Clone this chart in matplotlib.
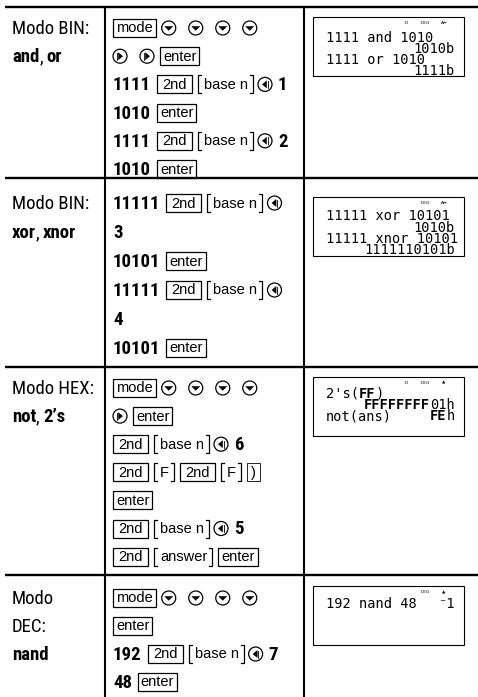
import matplotlib
matplotlib.use("Agg")
import matplotlib.pyplot as plt
from matplotlib import font_manager
from matplotlib.patches import Rectangle, Circle, Polygon
from matplotlib.lines import Line2D


def has_font(name):
    try:
        font_manager.findfont(font_manager.FontProperties(family=name),
                              fallback_to_default=False)
        return True
    except Exception:
        return False


NARROW = "Liberation Sans"
narrow_found = False
for cand in ["Liberation Sans Narrow", "Arial Narrow", "Roboto Condensed"]:
    if has_font(cand):
        NARROW = cand
        narrow_found = True
        break
SANS = "Liberation Sans"
MONO = "DejaVu Sans Mono"

# ---------------- content ----------------
row_labels = [
    [[("Modo BIN:", False)], [("and", True), (",", False), (" ", False), ("or", True)]],
    [[("Modo BIN:", False)], [("xor", True), (",", False), (" ", False), ("xnor", True)]],
    [[("Modo HEX:", False)], [("not", True), (",", False), (" ", False), ("2\u2019s", True)]],
    [[("Modo", False)], [("DEC:", False)], [("nand", True)]],
]

row1_keys = [
    [("key", "mode"), ("dn", ""), ("dn", ""), ("dn", ""), ("dn", "")],
    [("rt", ""), ("rt", ""), ("key", "enter")],
    [("num", "1111"), ("key", "2nd"), ("sec", "base n"), ("lt", ""), ("num", "1")],
    [("num", "1010"), ("key", "enter")],
    [("num", "1111"), ("key", "2nd"), ("sec", "base n"), ("lt", ""), ("num", "2")],
    [("num", "1010"), ("key", "enter")],
]
row2_keys = [
    [("num", "11111"), ("key", "2nd"), ("sec", "base n"), ("lt", "")],
    [("num", "3")],
    [("num", "10101"), ("key", "enter")],
    [("num", "11111"), ("key", "2nd"), ("sec", "base n"), ("lt", "")],
    [("num", "4")],
    [("num", "10101"), ("key", "enter")],
]
row3_keys = [
    [("key", "mode"), ("dn", ""), ("dn", ""), ("dn", ""), ("dn", "")],
    [("rt", ""), ("key", "enter")],
    [("key", "2nd"), ("sec", "base n"), ("lt", ""), ("num", "6")],
    [("key", "2nd"), ("sec", "F"), ("key", "2nd"), ("sec", "F"), ("key", ")")],
    [("key", "enter")],
    [("key", "2nd"), ("sec", "base n"), ("lt", ""), ("num", "5")],
    [("key", "2nd"), ("sec", "answer"), ("key", "enter")],
]
row4_keys = [
    [("key", "mode"), ("dn", ""), ("dn", ""), ("dn", ""), ("dn", "")],
    [("key", "enter")],
    [("num", "192"), ("key", "2nd"), ("sec", "base n"), ("lt", ""), ("num", "7")],
    [("num", "48"), ("key", "enter")],
]
row_keys = [row1_keys, row2_keys, row3_keys, row4_keys]

screen1 = [("l", [("1111 and 1010", False)]), ("r", [("1010b", False)]),
           ("l", [("1111 or 1010", False)]), ("r", [("1111b", False)])]
screen2 = [("l", [("11111 xor 10101", False)]), ("r", [("1010b", False)]),
           ("l", [("11111 xnor 10101", False)]), ("r", [("1111110101b", False)])]
screen3 = [("l", [("2's(", False), ("FF", True), (")", False)]),
           ("r", [("FFFFFFFF", True), ("01h", False)]),
           ("lr", [("not(ans)", False)], [("FE", True), ("h", False)])]
screen4 = [("lr", [("192 nand 48", False)], [("\u207b1", False)])]
screens = [screen1, screen2, screen3, screen4]
screen_indicators = [["D", "DEG", "A\u2194"], ["DEG", "A\u2194"], ["D", "DEG", "\u25b2"], ["DEG", "\u25b2"]]

# ---------------- layout ----------------
W, H = 478, 697
row_tops = [7, 178, 367, 575]
first_line = [28, 203, 388, 598]
line_step = [28.2, 29.0, 28.1, 28.0]
screen_tops = [17, 197, 377, 586]
screen_first = [20, 19, 16, 18]
screen_step = 11.3
col1_x, col2_x = 12, 113
vline_x = [105, 304]
box_x0, box_x1 = 313, 464
scr_left, scr_right = 326, 455
CIRCLES = ("dn", "rt", "lt")

fig = plt.figure(figsize=(W / 100, H / 100), dpi=100)
ax = fig.add_axes([0, 0, 1, 1])
ax.set_xlim(0, W)
ax.set_ylim(H, 0)
ax.axis("off")
fig.canvas.draw()
renderer = fig.canvas.get_renderer()


def width_of(t):
    return t.get_window_extent(renderer=renderer).width


def draw_text(x, y, s, family, size, weight="normal", ha="left"):
    t = ax.text(x, y, s, family=family, fontsize=size, fontweight=weight,
                ha=ha, va="baseline", color="black")
    return t, width_of(t)


def space_width(family, size, weight="normal"):
    t1 = ax.text(0, 0, "x x", family=family, fontsize=size, fontweight=weight)
    t2 = ax.text(0, 0, "xx", family=family, fontsize=size, fontweight=weight)
    w = width_of(t1) - width_of(t2)
    t1.remove(); t2.remove()
    return w


LBL_SIZE = 13.5 if narrow_found else 12.2
NUM_SIZE = 13.5 if narrow_found else 12.2
KEY_SIZE = 10.5
lbl_space = space_width(NARROW, LBL_SIZE) * 0.8

# grid lines
for y in row_tops:
    ax.add_line(Line2D([5, 478], [y, y], color="black", lw=1.7, solid_capstyle="butt"))
for x in vline_x:
    ax.add_line(Line2D([x, x], [row_tops[0], H], color="black", lw=1.5, solid_capstyle="butt"))

# left column labels
for r, lines in enumerate(row_labels):
    for i, segs in enumerate(lines):
        y = first_line[r] + i * line_step[r] + 6.2
        x = col1_x
        for s, b in segs:
            if s == " ":
                x += lbl_space
                continue
            _, w = draw_text(x, y, s, NARROW, LBL_SIZE, "bold" if b else "normal")
            x += w


def circle_key(cx, cy, kind):
    ax.add_patch(Circle((cx, cy), 7, fill=False, ec="black", lw=0.9))
    if kind == "dn":
        pts = [(cx - 4, cy - 1.6), (cx + 4, cy - 1.6), (cx, cy + 2.4)]
    elif kind == "rt":
        pts = [(cx - 1.6, cy - 3.5), (cx - 1.6, cy + 3.5), (cx + 2.6, cy)]
        ax.add_line(Line2D([cx - 2.8, cx - 2.8], [cy - 3.5, cy + 3.5], color="black", lw=0.6))
    else:
        pts = [(cx + 1.6, cy - 3.5), (cx + 1.6, cy + 3.5), (cx - 2.6, cy)]
        ax.add_line(Line2D([cx + 2.8, cx + 2.8], [cy - 3.5, cy + 3.5], color="black", lw=0.6))
    ax.add_patch(Polygon(pts, closed=True, fc="black", ec="black", lw=0.3))


def gap(prev, kind):
    if prev in CIRCLES and kind in CIRCLES:
        return 13
    if prev == "num":
        return 6
    if prev == "sec" and kind in CIRCLES:
        return 5
    return 6


# middle column key sequences
for r, lines in enumerate(row_keys):
    for i, toks in enumerate(lines):
        cy = first_line[r] + i * line_step[r]
        x = col2_x
        prev = None
        for kind, s in toks:
            if prev is not None:
                x += gap(prev, kind)
            if kind == "num":
                _, w = draw_text(x, cy + 6.0, s, NARROW, NUM_SIZE, "bold")
                x += w
            elif kind == "key":
                t = ax.text(0, 0, s, family=SANS, fontsize=KEY_SIZE, ha="center",
                            va="baseline", color="black")
                w = width_of(t)
                bw = max(w + 6, 35) if len(s) > 1 else w + 8
                t.set_position((x + bw / 2, cy + 4.5))
                lw = 0.9 if s != ")" else 0.6
                ax.add_patch(Rectangle((x, cy - 9), bw, 18, fill=False, ec="black", lw=lw))
                x += bw
            elif kind == "sec":
                t, w = draw_text(x + 6, cy + 4.5, s, SANS, KEY_SIZE, "normal")
                ax.add_line(Line2D([x + 3, x, x, x + 3], [cy - 9, cy - 9, cy + 9, cy + 9],
                                   color="black", lw=0.9))
                xr = x + 6 + w + 5
                ax.add_line(Line2D([xr - 3, xr, xr, xr - 3], [cy - 9, cy - 9, cy + 9, cy + 9],
                                   color="black", lw=0.9))
                x = xr
            else:
                circle_key(x + 7, cy, kind)
                x += 14
            prev = kind

# calculator screens
SCR_SIZE = 9.8
ind_x = {"D": 406, "DEG": 425, "A\u2194": 444, "\u25b2": 444}


def flow_left(x, y, segs):
    for s, b in segs:
        _, w = draw_text(x, y, s, MONO, SCR_SIZE, "bold" if b else "normal")
        x += w


def flow_right(x, y, segs):
    for s, b in reversed(segs):
        _, w = draw_text(x, y, s, MONO, SCR_SIZE, "bold" if b else "normal", ha="right")
        x -= w


for r, lines in enumerate(screens):
    top = screen_tops[r]
    ax.add_patch(Rectangle((box_x0, top), box_x1 - box_x0, 59, fill=False, ec="black", lw=0.8))
    for name in screen_indicators[r]:
        ax.text(ind_x[name], top + 6, name, family="DejaVu Sans", fontsize=3.2,
                ha="center", va="center", color="black")
    for i, item in enumerate(lines):
        y = top + screen_first[r] + i * screen_step + 4.5
        if item[0] == "l":
            flow_left(scr_left, y, item[1])
        elif item[0] == "r":
            flow_right(scr_right, y, item[1])
        else:
            flow_left(scr_left, y, item[1])
            flow_right(scr_right, y, item[2])

fig.savefig("out.png", dpi=100)
